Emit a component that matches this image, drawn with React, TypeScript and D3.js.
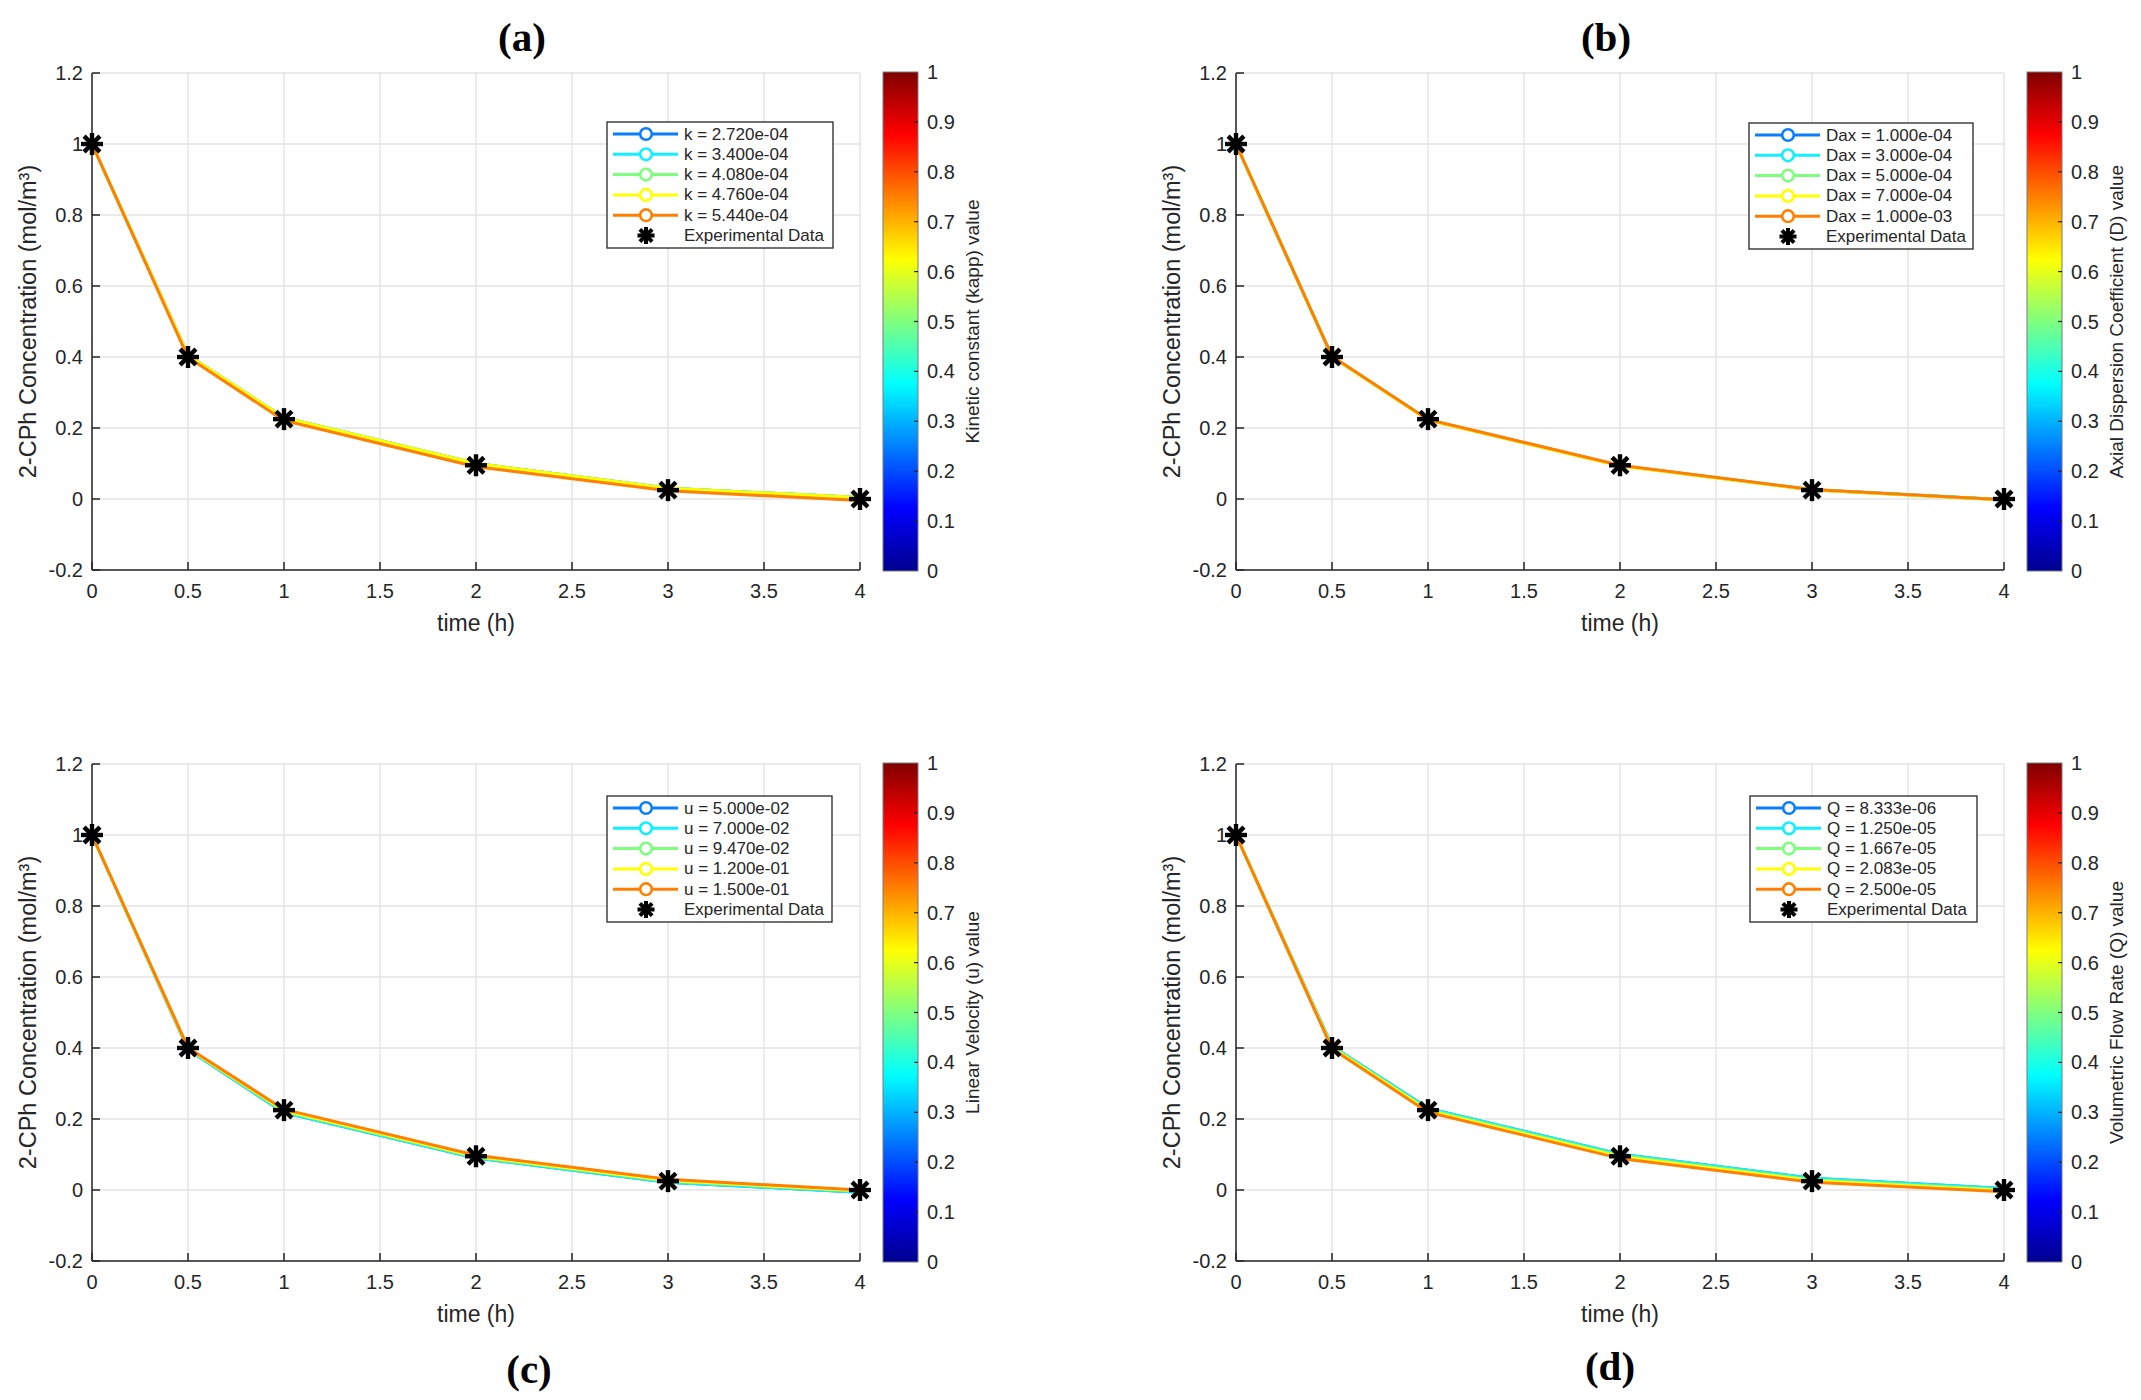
import React from "react";
import * as d3 from "d3";

const width = 2141;
const height = 1400;
const plotW = 768;
const plotH = 497;

const times = [0, 0.5, 1, 2, 3, 4];
const experimental = [1, 0.4, 0.225, 0.095, 0.025, 0];
const xTicks = [0, 0.5, 1, 1.5, 2, 2.5, 3, 3.5, 4];
const yTicks = [-0.2, 0, 0.2, 0.4, 0.6, 0.8, 1, 1.2];
const cbTicks = [0, 0.1, 0.2, 0.3, 0.4, 0.5, 0.6, 0.7, 0.8, 0.9, 1];
const seriesColors = ["#0a7dff", "#10f0ff", "#7dff7d", "#ffff00", "#ff8000"];

// (a) kinetic constant
const kLabels = ["k = 2.720e-04", "k = 3.400e-04", "k = 4.080e-04", "k = 4.760e-04", "k = 5.440e-04"];
const kCurves = [
  [1, 0.405, 0.229, 0.1, 0.03, 0.004],
  [1, 0.405, 0.229, 0.1, 0.03, 0.004],
  [1, 0.405, 0.229, 0.1, 0.03, 0.004],
  [1, 0.405, 0.229, 0.1, 0.03, 0.004],
  [1, 0.399, 0.221, 0.091, 0.023, -0.004],
];

// (b) axial dispersion
const daxLabels = ["Dax = 1.000e-04", "Dax = 3.000e-04", "Dax = 5.000e-04", "Dax = 7.000e-04", "Dax = 1.000e-03"];
const daxCurves = [
  [1, 0.401, 0.223, 0.094, 0.026, -0.002],
  [1, 0.401, 0.223, 0.094, 0.026, -0.002],
  [1, 0.401, 0.223, 0.094, 0.026, -0.002],
  [1, 0.401, 0.222, 0.093, 0.025, -0.003],
  [1, 0.402, 0.224, 0.095, 0.027, -0.002],
];

// (c) linear velocity
const uLabels = ["u = 5.000e-02", "u = 7.000e-02", "u = 9.470e-02", "u = 1.200e-01", "u = 1.500e-01"];
const uCurves = [
  [1, 0.396, 0.218, 0.09, 0.022, -0.006],
  [1, 0.396, 0.218, 0.09, 0.022, -0.006],
  [1, 0.398, 0.222, 0.093, 0.025, -0.003],
  [1, 0.399, 0.224, 0.095, 0.027, -0.002],
  [1, 0.401, 0.227, 0.098, 0.03, 0.0],
];

// (d) volumetric flow rate
const qLabels = ["Q = 8.333e-06", "Q = 1.250e-05", "Q = 1.667e-05", "Q = 2.083e-05", "Q = 2.500e-05"];
const qCurves = [
  [1, 0.405, 0.23, 0.101, 0.033, 0.004],
  [1, 0.405, 0.23, 0.101, 0.033, 0.004],
  [1, 0.403, 0.226, 0.097, 0.029, 0.001],
  [1, 0.401, 0.223, 0.094, 0.026, -0.002],
  [1, 0.398, 0.219, 0.089, 0.022, -0.005],
];

const panels = [
  { title: "(a)", left: 92, top: 73, titleX: 522, titleY: 37, legX: 515, legY: 49, legW: 226, labels: kLabels, curves: kCurves, cbLabel: "Kinetic constant (kapp) value" },
  { title: "(b)", left: 1236, top: 73, titleX: 1606, titleY: 37, legX: 513, legY: 50, legW: 224, labels: daxLabels, curves: daxCurves, cbLabel: "Axial Dispersion Coefficient (D) value" },
  { title: "(c)", left: 92, top: 764, titleX: 529, titleY: 1369, legX: 515, legY: 32, legW: 225, labels: uLabels, curves: uCurves, cbLabel: "Linear Velocity (u) value" },
  { title: "(d)", left: 1236, top: 764, titleX: 1610, titleY: 1366, legX: 514, legY: 32, legW: 227, labels: qLabels, curves: qCurves, cbLabel: "Volumetric Flow Rate (Q) value" },
];

const jetStops = [
  { o: 0, c: "#00008f" },
  { o: 0.125, c: "#0000ff" },
  { o: 0.375, c: "#00ffff" },
  { o: 0.625, c: "#ffff00" },
  { o: 0.875, c: "#ff0000" },
  { o: 1, c: "#800000" },
];

const font = "'Liberation Sans', Arial, Helvetica, sans-serif";
const ink = "#262626";

const Asterisk = ({ x, y, r = 11, sw = 4.4 }) => (
  <g transform={`translate(${x},${y})`} stroke="#000" strokeWidth={sw}>
    <line x1={-r} x2={r} y1={0} y2={0} />
    <line x1={0} x2={0} y1={-r} y2={r} />
    <line x1={-r * 0.72} x2={r * 0.72} y1={-r * 0.72} y2={r * 0.72} />
    <line x1={-r * 0.72} x2={r * 0.72} y1={r * 0.72} y2={-r * 0.72} />
  </g>
);

const fmt = (v) => (Math.abs(v) < 1e-9 ? "0" : String(+v.toFixed(2)));

const Panel = ({ p, idx }) => {
  const xScale = d3.scaleLinear().domain([0, 4]).range([0, plotW]);
  const yScale = d3.scaleLinear().domain([-0.2, 1.2]).range([plotH, 0]);
  const cbScale = d3.scaleLinear().domain([0, 1]).range([plotH + 1, -1]);
  const line = d3
    .line()
    .x((d) => xScale(d[0]))
    .y((d) => yScale(d[1]));
  const cbX = plotW + 23;
  const cbW = 35;
  const rowH = 20.3;
  const gradId = `jet${idx}`;

  return (
    <g transform={`translate(${p.left},${p.top})`} fontFamily={font}>
      <defs>
        <linearGradient id={gradId} x1="0" y1="1" x2="0" y2="0">
          {jetStops.map((s) => (
            <stop key={s.o} offset={s.o} stopColor={s.c} />
          ))}
        </linearGradient>
      </defs>
      {/* grid */}
      {xTicks.map((t) => (
        <line key={"gx" + t} x1={xScale(t)} x2={xScale(t)} y1={0} y2={plotH} stroke="#e3e3e3" strokeWidth={1.4} />
      ))}
      {yTicks.map((t) => (
        <line key={"gy" + t} x1={0} x2={plotW} y1={yScale(t)} y2={yScale(t)} stroke="#e3e3e3" strokeWidth={1.4} />
      ))}
      {/* axes */}
      <line x1={0} x2={plotW} y1={plotH} y2={plotH} stroke={ink} strokeWidth={1.5} />
      <line x1={0} x2={0} y1={0} y2={plotH} stroke={ink} strokeWidth={1.5} />
      {xTicks.map((t) => (
        <g key={"xt" + t}>
          <line x1={xScale(t)} x2={xScale(t)} y1={plotH} y2={plotH - 8} stroke={ink} strokeWidth={1.5} />
          <text x={xScale(t)} y={plotH + 21} textAnchor="middle" dominantBaseline="central" fontSize={20} fill={ink}>
            {fmt(t)}
          </text>
        </g>
      ))}
      {yTicks.map((t) => (
        <g key={"yt" + t}>
          <line x1={0} x2={8} y1={yScale(t)} y2={yScale(t)} stroke={ink} strokeWidth={1.5} />
          <text x={-9} y={yScale(t)} textAnchor="end" dominantBaseline="central" fontSize={20} fill={ink}>
            {fmt(t)}
          </text>
        </g>
      ))}
      <text x={plotW / 2} y={plotH + 53} textAnchor="middle" dominantBaseline="central" fontSize={23} fill={ink}>
        time (h)
      </text>
      <text
        transform={`translate(-64,${plotH / 2}) rotate(-90)`}
        textAnchor="middle"
        dominantBaseline="central"
        fontSize={23.5}
        fill={ink}
      >
        2-CPh Concentration (mol/m³)
      </text>
      {/* model curves */}
      {p.curves.map((c, i) => (
        <path
          key={"c" + i}
          d={line(times.map((t, j) => [t, c[j]]))}
          fill="none"
          stroke={seriesColors[i]}
          strokeWidth={3}
          strokeLinejoin="round"
        />
      ))}
      {/* experimental */}
      {times.map((t, j) => (
        <Asterisk key={"e" + j} x={xScale(t)} y={yScale(experimental[j])} />
      ))}
      {/* legend */}
      <g transform={`translate(${p.legX},${p.legY})`}>
        <rect x={0} y={0} width={p.legW} height={126} fill="#fff" stroke={ink} strokeWidth={1.3} />
        {p.labels.map((lab, i) => (
          <g key={lab} transform={`translate(0,${12 + i * rowH})`}>
            <line x1={6} x2={71} y1={0} y2={0} stroke={seriesColors[i]} strokeWidth={3} />
            <circle cx={39} cy={0} r={5.8} fill="#fff" stroke={seriesColors[i]} strokeWidth={2.6} />
            <text x={77} y={0} dominantBaseline="central" fontSize={17} fill={ink}>
              {lab}
            </text>
          </g>
        ))}
        <g transform={`translate(0,${12 + 5 * rowH})`}>
          <Asterisk x={39} y={0} r={8.5} sw={4} />
          <text x={77} y={0} dominantBaseline="central" fontSize={17} fill={ink}>
            Experimental Data
          </text>
        </g>
      </g>
      {/* colorbar */}
      <rect x={cbX} y={-1} width={cbW} height={plotH + 2} fill={`url(#${gradId})`} stroke="#7a7a7a" strokeWidth={1} />
      {cbTicks.map((t) => (
        <g key={"cb" + t}>
          {t > 0 && t < 1 && (
            <line x1={cbX + cbW} x2={cbX + cbW - 4} y1={cbScale(t)} y2={cbScale(t)} stroke={ink} strokeWidth={1.2} />
          )}
          <text x={cbX + cbW + 9} y={cbScale(t)} dominantBaseline="central" fontSize={20} fill={ink}>
            {fmt(t)}
          </text>
        </g>
      ))}
      <text
        transform={`translate(${cbX + cbW + 54},${plotH / 2}) rotate(-90)`}
        textAnchor="middle"
        dominantBaseline="central"
        fontSize={19}
        fill={ink}
      >
        {p.cbLabel}
      </text>
    </g>
  );
};

export default function App() {
  return (
    <div style={{ position: "absolute", left: 0, top: 0 }}>
      <svg width={width} height={height} style={{ display: "block", background: "#fff" }}>
        <rect width={width} height={height} fill="#fff" />
        {panels.map((p, i) => (
          <g key={p.title}>
            <Panel p={p} idx={i} />
            <text
              x={p.titleX}
              y={p.titleY}
              textAnchor="middle"
              dominantBaseline="central"
              fontFamily="'Liberation Serif', 'Times New Roman', serif"
              fontWeight="bold"
              fontSize={41}
              fill="#000"
            >
              {p.title}
            </text>
          </g>
        ))}
      </svg>
    </div>
  );
}
